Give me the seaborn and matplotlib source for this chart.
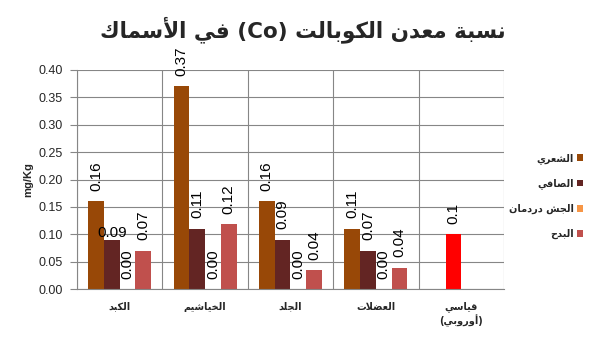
import numpy as np
import pandas as pd
import matplotlib
matplotlib.use("Agg")
import matplotlib.pyplot as plt
from matplotlib.patches import Patch
import seaborn as sns

# ---------------- Arabic shaping helper (matplotlib has no RTL shaping) ----------------
AR = {
    'ا': (0xFE8D, False), 'أ': (0xFE83, False), 'ب': (0xFE8F, True), 'ة': (0xFE93, False),
    'ت': (0xFE95, True), 'ج': (0xFE9D, True), 'ح': (0xFEA1, True), 'خ': (0xFEA5, True),
    'د': (0xFEA9, False), 'ر': (0xFEAD, False), 'س': (0xFEB1, True), 'ش': (0xFEB5, True),
    'ص': (0xFEB9, True), 'ض': (0xFEBD, True), 'ع': (0xFEC9, True), 'ف': (0xFED1, True),
    'ق': (0xFED5, True), 'ك': (0xFED9, True), 'ل': (0xFEDD, True), 'م': (0xFEE1, True),
    'ن': (0xFEE5, True), 'و': (0xFEED, False), 'ي': (0xFEF1, True),
}
LAMALEF = {'ا': (0xFEFB, 0xFEFC), 'أ': (0xFEF7, 0xFEF8)}


def shape(text):
    chars = list(text)
    out = []
    i = 0
    prev_dual = False
    while i < len(chars):
        c = chars[i]
        if c not in AR:
            out.append(c)
            prev_dual = False
            i += 1
            continue
        if c == 'ل' and i + 1 < len(chars) and chars[i + 1] in LAMALEF:
            iso, fin = LAMALEF[chars[i + 1]]
            out.append(chr(fin if prev_dual else iso))
            prev_dual = False
            i += 2
            continue
        base, dual = AR[c]
        nxt = chars[i + 1] if i + 1 < len(chars) else None
        join_next = dual and (nxt in AR)
        join_prev = prev_dual
        if join_prev and join_next:
            cp = base + 3
        elif join_prev:
            cp = base + 1
        elif join_next:
            cp = base + 2
        else:
            cp = base
        out.append(chr(cp))
        prev_dual = dual
        i += 1
    return ''.join(reversed(out))


# ---------------- Data ----------------
categories = ["الكبد", "الخياشيم", "الجلد", "العضلات", "قياسي (أوروبي)"]
series_names = ["الشعري", "الصافي", "الجش دردمان", "البدح"]

shaari = [0.16, 0.37, 0.16, 0.11, np.nan]
safi = [0.09, 0.11, 0.09, 0.07, 0.10]      # last value = European standard (red bar)
jash = [0.00, 0.00, 0.00, 0.00, np.nan]
bedah = [0.07, 0.118, 0.034, 0.039, np.nan]

labels_shaari = ["0.16", "0.37", "0.16", "0.11"]
labels_safi = ["0.09", "0.11", "0.09", "0.07", "0.1"]
labels_jash = ["0.00", "0.00", "0.00", "0.00"]
labels_bedah = ["0.07", "0.12", "0.04", "0.04"]

yticks = [0.00, 0.05, 0.10, 0.15, 0.20, 0.25, 0.30, 0.35, 0.40]

colors = ["#984807", "#632523", "#F79646", "#C0504D"]
standard_color = "#FF0000"

rows = []
for s_name, vals in zip(series_names, [shaari, safi, jash, bedah]):
    for cat, v in zip(categories, vals):
        rows.append({"cat": cat, "fish": s_name, "value": v})
df = pd.DataFrame(rows)

# ---------------- Plot ----------------
sns.set_style("white")
plt.rcParams['font.family'] = ['DejaVu Sans']

fig = plt.figure(figsize=(6.14, 3.37), dpi=100)
ax = fig.add_axes([77 / 614, 1 - 289 / 337, (504 - 77) / 614, (289 - 70) / 337])

sns.barplot(data=df, x="cat", y="value", hue="fish", order=categories,
            hue_order=series_names, palette=colors, width=0.74, saturation=1,
            errorbar=None, legend=False, ax=ax, linewidth=0)

# recolor standard bar
for bar in ax.containers[1]:
    cx = bar.get_x() + bar.get_width() / 2
    if abs(cx - 4) < 0.5:
        bar.set_facecolor(standard_color)

# data labels
all_labels = [labels_shaari, labels_safi, labels_jash, labels_bedah]
lab_font = dict(family="Liberation Sans", fontsize=11, color="black")
for si, cont in enumerate(ax.containers):
    bars = sorted([b for b in cont if not np.isnan(b.get_height())],
                  key=lambda b: b.get_x())
    for bi, bar in enumerate(bars):
        if bi >= len(all_labels[si]):
            continue
        txt = all_labels[si][bi]
        cx = bar.get_x() + bar.get_width() / 2
        h = bar.get_height()
        if si == 1 and bi == 0:
            ax.annotate(txt, xy=(cx, h), xytext=(0, 2), textcoords="offset points",
                        ha="center", va="baseline", rotation=0,
                        annotation_clip=False, **lab_font)
        else:
            ax.annotate(txt, xy=(cx, h), xytext=(0, 7.5), textcoords="offset points",
                        ha="center", va="bottom", rotation=90,
                        annotation_clip=False, **lab_font)

# axes styling
grid_c = "#868686"
ax.set_xlim(-0.5, 4.5)
ax.set_ylim(0, 0.40)
ax.set_yticks(yticks)
ax.set_yticklabels([f"{v:.2f}" for v in yticks], family="Liberation Sans", fontsize=9)
ax.set_xticks(range(len(categories)))
cat_labels = [shape(c) for c in categories[:4]] + [shape("قياسي") + "\n(" + shape("أوروبي") + ")"]
ax.set_xticklabels(cat_labels, fontsize=7, family="DejaVu Sans", fontweight="bold")
ax.set_xticks(np.arange(-0.5, 5.0, 1.0), minor=True)
ax.tick_params(axis="x", which="major", length=0, pad=9)
ax.tick_params(axis="x", which="minor", length=5, color=grid_c, width=0.8, direction="out")
ax.tick_params(axis="y", which="major", length=5, color=grid_c, width=0.8,
               direction="out", pad=5, left=True)
ax.grid(axis="y", which="major", color=grid_c, linewidth=0.8)
ax.grid(axis="x", which="minor", color=grid_c, linewidth=0.8)
ax.grid(axis="x", which="major", visible=False)
ax.set_axisbelow(True)
for sp in ["top", "right"]:
    ax.spines[sp].set_visible(False)
for sp in ["left", "bottom"]:
    ax.spines[sp].set_visible(True)
    ax.spines[sp].set_color(grid_c)
    ax.spines[sp].set_linewidth(0.8)

ax.set_xlabel("")
ax.set_ylabel("mg/Kg", family="Liberation Sans", fontsize=8, fontweight="bold", labelpad=4)

# legend
handles = [Patch(facecolor=c, edgecolor="none") for c in colors]
fig.legend(handles, [shape(s) for s in series_names], loc="center right",
           bbox_to_anchor=(588 / 614, 1 - 196 / 337), frameon=False, markerfirst=False,
           prop=dict(family="DejaVu Sans", size=7, weight="bold"),
           handlelength=0.65, handleheight=0.65, handletextpad=0.3,
           labelspacing=1.5, borderpad=0)

# title
title = shape("في الأسماك") + " (Co) " + shape("نسبة معدن الكوبالت")
fig.text(302.5 / 614, 1 - 30 / 337, title, ha="center", va="center", fontsize=15.5,
         fontweight="bold", family="DejaVu Sans")

fig.savefig("out.png", dpi=100, facecolor="white")
